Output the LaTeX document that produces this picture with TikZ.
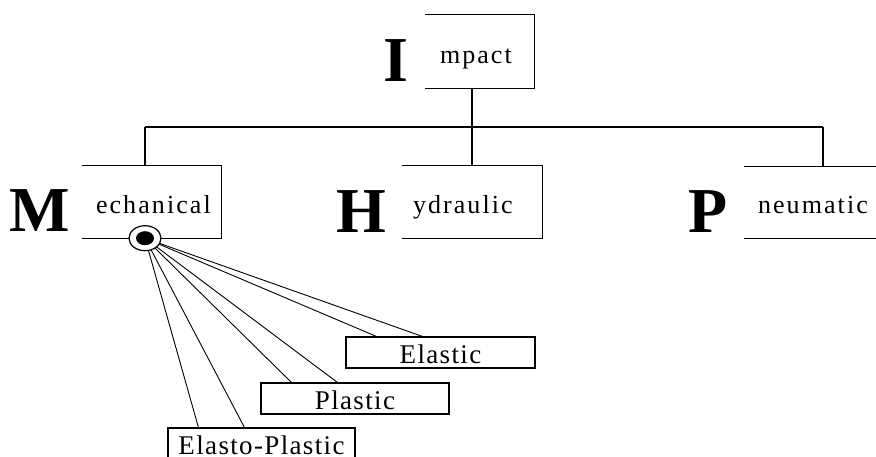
\documentclass[tikz,border=0pt]{standalone}
\usepackage{fontspec}
\setmainfont{Liberation Serif}
\newfontfamily\widefont[LetterSpace=8]{Liberation Serif}
\newfontfamily\leaffont[LetterSpace=5]{Liberation Serif}
\usetikzlibrary{shapes.geometric}

\tikzset{
  frame/.style={line width=1.2pt},
  catbox/.style={minimum width=#1, minimum height=72pt, inner sep=0pt},
  catlabel/.style={anchor=base west, inner sep=0pt, font=\widefont\fontsize{26}{26}\selectfont},
  bigletter/.style={anchor=base east, inner sep=0pt, font=\bfseries\fontsize{64}{64}\selectfont},
  leafbox/.style={draw, line width=1.1pt, minimum width=#1, minimum height=31pt, inner sep=0pt,
    text height=21pt, text depth=0pt, font=\leaffont\fontsize{27}{27}\selectfont},
  fan/.style={line width=0.9pt},
  hub/.style={draw, ellipse, fill=white, line width=1.2pt, minimum width=32pt, minimum height=25pt,
    inner sep=0pt, path picture={\fill[black] (path picture bounding box.center) ellipse (9pt and 7pt);}}
}

\begin{document}
\begin{tikzpicture}[x=1pt,y=-1pt]
  \clip (0,0) rectangle (876,456);
  % category boxes, open on the left
  \node[catbox=109pt, minimum height=73pt] (impact) at (479.5,51.5) {};
  \node[catbox=139pt] (mech) at (151.5,202) {};
  \node[catbox=140pt] (hyd) at (472,202) {};
  \node[catbox=150pt, minimum height=71pt] (pneu) at (819,202.5) {};
  \foreach \cat in {impact,mech,hyd,pneu}
    \draw[frame] (\cat.north west) -- (\cat.north east) -- (\cat.south east) -- (\cat.south west);
  % labels
  \node[catlabel] (impactlabel) at ([xshift=15pt,yshift=-11.5pt]impact.west) {mpact};
  \node[catlabel] (mechlabel) at ([xshift=14pt,yshift=-11pt]mech.west) {echanical};
  \node[catlabel] (hydlabel) at ([xshift=11pt,yshift=-11pt]hyd.west) {ydraulic};
  \node[catlabel] (pneulabel) at ([xshift=14pt,yshift=-11pt]pneu.west) {neumatic};
  \node[bigletter] (impactletter) at ([xshift=-16pt,yshift=7pt]impact.south west) {I};
  \node[bigletter] (mechletter) at ([xshift=-12pt,yshift=7pt]mech.south west) {M};
  \node[bigletter] (hydletter) at ([xshift=-15pt,yshift=6pt]hyd.south west) {H};
  \node[bigletter] (pneuletter) at ([xshift=-16pt,yshift=6pt]pneu.south west) {P};
  % tree
  \coordinate (barL) at (145,127);
  \coordinate (barR) at (823,127);
  \draw[frame] (barL) -- (barR);
  \draw[frame] (barL) -- (barL |- mech.north);
  \draw[frame] (barR) -- (barR |- pneu.north);
  \draw[frame] (impact.south -| hyd.north) -- (hyd.north);
  % impact types
  \node[leafbox=189pt] (elastic) at (440.5,352.5) {Elastic};
  \node[leafbox=188pt] (plastic) at (355,398.5) {Plastic};
  \node[leafbox=187pt] (elastoplastic) at (261.5,443.5) {Elasto-Plastic};
  \coordinate (hubc) at (barL |- mech.south);
  \foreach \leaf in {elastic,plastic,elastoplastic} {
    \draw[fan] (hubc) -- ([xshift=31pt]\leaf.north west);
    \draw[fan] (hubc) -- ([xshift=77pt]\leaf.north west);
  }
  \node[hub] (hub) at (hubc) {};
\end{tikzpicture}
\end{document}
